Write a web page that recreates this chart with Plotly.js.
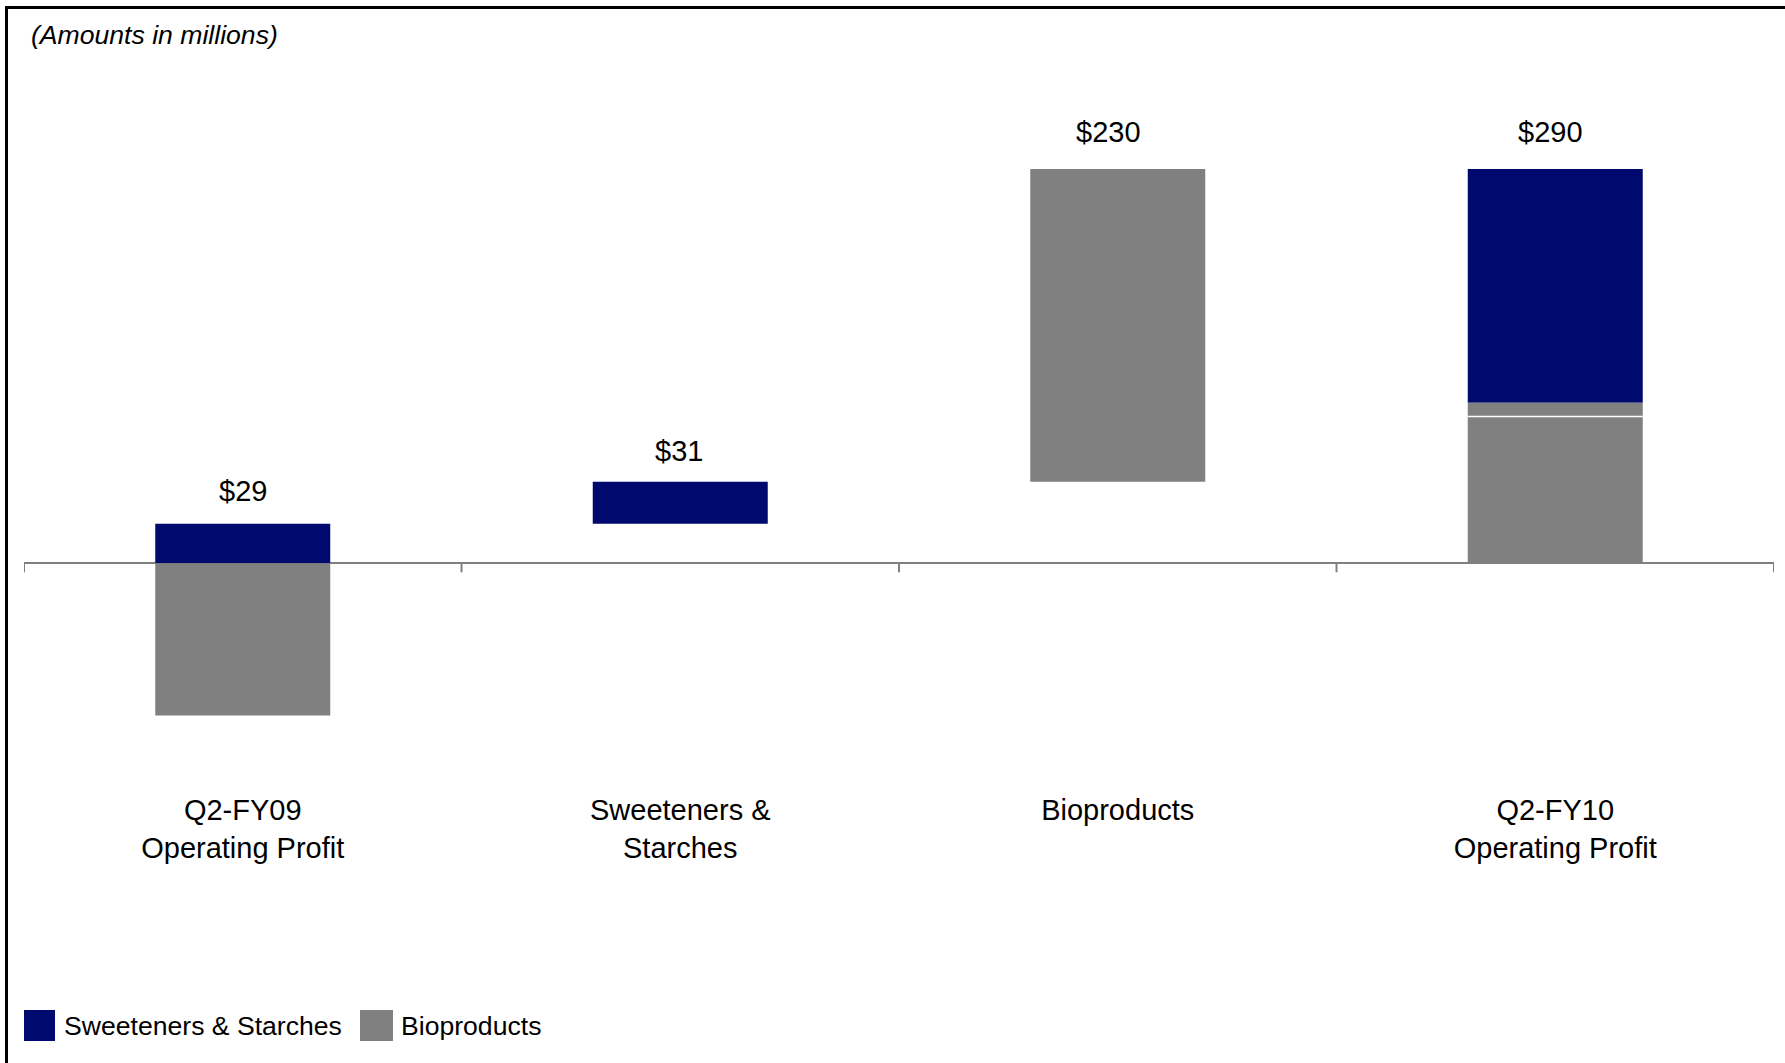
<!DOCTYPE html>
<html>
<head>
<meta charset="utf-8">
<script src="https://cdn.plot.ly/plotly-3.0.1.min.js"></script>
<style>
  html, body { margin: 0; padding: 0; background: #fff; }
  #wrap { position: relative; width: 1785px; height: 1063px; overflow: hidden; }
  #chart { position: absolute; left: 0; top: 0; width: 1785px; height: 1063px; }
  .frameTop { position: absolute; left: 5px; top: 6px; width: 1780px; height: 3px; background: #000; }
  .frameLeft { position: absolute; left: 5px; top: 6px; width: 3px; height: 1057px; background: #000; }
  #err { position: absolute; left: 400px; top: 300px; font: 20px monospace; color: red; white-space: pre; }
</style>
</head>
<body>
<div id="wrap">
  <div id="chart"></div>
  <div class="frameTop"></div>
  <div class="frameLeft"></div>
  <div id="err"></div>
</div>
<script>
function logErr(tag, e) {
  document.getElementById('err').textContent += tag + ': ' + (e && e.message ? e.message : e) + '\n';
}
// ---- data ----
var categories = ['Q2-FY09<br>Operating Profit', 'Sweeteners &<br>Starches', 'Bioproducts', 'Q2-FY10<br>Operating Profit'];
var sweetX      = [0, 1, 3];
var sweetValues = [29, 31, 172];
var sweetBase   = [0, 29, 118];
var bioX        = [0, 2, 3];
var bioValues   = [-112, 230, 108];
var bioBase     = [0, 60, 0];
var bioExtraX      = [3];
var bioExtraValues = [10];
var bioExtraBase   = [108];
var valueLabels = ['$29', '$31', '$230', '$290'];
var seriesNames = ['Sweeteners & Starches', 'Bioproducts'];

// ---- style ----
var NAVY = '#000A6E';
var GRAY = '#808080';
var FONT = 'Liberation Sans, Arial, sans-serif';
var W = 1785, H = 1063;
var mL = 24, mR = 11, mT = 101, mB = 273;
var pxPerUnit = 1.3597, zeroPx = 563.3;
var yMax = (zeroPx - mT) / pxPerUnit;
var yMin = (zeroPx - (H - mB)) / pxPerUnit;
var plotW = W - mL - mR, plotH = H - mT - mB;
var unitsPerPx = 1 / pxPerUnit;
function px2xp(px) { return (px - mL) / plotW; }
function py2yp(py) { return (H - mB - py) / plotH; }
var labelShiftX = [0, -1, -9, -5];
var labelShiftY = [33, 31, 37, 37];

var barW = 0.4;
var traces = [
  { type: 'bar', name: seriesNames[0], x: sweetX, y: sweetValues, base: sweetBase,
    width: barW, marker: { color: NAVY }, showlegend: false, hoverinfo: 'skip' },
  { type: 'bar', name: seriesNames[1], x: bioX, y: bioValues, base: bioBase,
    width: barW, marker: { color: GRAY }, showlegend: false, hoverinfo: 'skip' },
  { type: 'bar', name: seriesNames[1], x: bioExtraX, y: bioExtraValues, base: bioExtraBase,
    width: barW, marker: { color: GRAY }, showlegend: false, hoverinfo: 'skip' }
];

// column tops from the data
var colTop = [0, 0, 0, 0];
[[sweetX, sweetValues, sweetBase], [bioX, bioValues, bioBase], [bioExtraX, bioExtraValues, bioExtraBase]].forEach(function (t) {
  for (var q = 0; q < t[0].length; q++) {
    var topv = t[2][q] + Math.max(t[1][q], 0);
    if (topv > colTop[t[0][q]]) colTop[t[0][q]] = topv;
  }
});

var annotations = [];
for (var i = 0; i < categories.length; i++) {
  annotations.push({ x: i, y: colTop[i], xref: 'x', yref: 'y', text: valueLabels[i],
    showarrow: false, yanchor: 'middle', xshift: labelShiftX[i], yshift: labelShiftY[i],
    font: { family: FONT, size: 29, color: '#000' } });
}
annotations.push({ xref: 'paper', yref: 'paper', x: px2xp(29), y: py2yp(35), xanchor: 'left', yanchor: 'middle',
  text: '<i>(Amounts in millions)</i>', showarrow: false, font: { family: FONT, size: 26.6, color: '#000' } });

var shapes = [];
var legendItems = [
  { name: seriesNames[0], color: NAVY, x0: 24, x1: 55, tx: 62 },
  { name: seriesNames[1], color: GRAY, x0: 360, x1: 393, tx: 399 }
];
for (var j = 0; j < legendItems.length; j++) {
  var it = legendItems[j];
  shapes.push({ type: 'rect', xref: 'paper', yref: 'paper', x0: px2xp(it.x0), x1: px2xp(it.x1),
    y0: py2yp(1041), y1: py2yp(1010), fillcolor: it.color, line: { width: 0 } });
  annotations.push({ xref: 'paper', yref: 'paper', x: px2xp(it.tx), y: py2yp(1026), xanchor: 'left', yanchor: 'middle',
    text: it.name, showarrow: false, font: { family: FONT, size: 26.6, color: '#000' } });
}
for (var b = 0; b <= categories.length; b++) {
  shapes.push({ type: 'line', xref: 'x', yref: 'y',
    x0: b - 0.5, x1: b - 0.5, y0: 0, y1: -9 * unitsPerPx, line: { color: GRAY, width: 2 } });
}
shapes.push({ type: 'line', xref: 'x', yref: 'y', x0: 3 - barW / 2, x1: 3 + barW / 2,
  y0: bioExtraBase[0], y1: bioExtraBase[0], line: { color: '#fff', width: 1.5 } });

var layout = {
  width: W, height: H,
  margin: { l: mL, r: mR, t: mT, b: mB, pad: 0 },
  paper_bgcolor: '#fff', plot_bgcolor: '#fff',
  font: { family: FONT, color: '#000' },
  barmode: 'overlay',
  showlegend: false,
  xaxis: { range: [-0.5, 3.5], tickmode: 'array', tickvals: [0, 1, 2, 3], ticktext: categories,
    showline: false, showgrid: false, zeroline: false,
    ticks: '', tickfont: { family: FONT, size: 29, color: '#000' } },
  yaxis: { range: [yMin, yMax], showline: false, showgrid: false, showticklabels: false, ticks: '',
    zeroline: true, zerolinecolor: GRAY, zerolinewidth: 2 }
};

try {
  Plotly.newPlot('chart', traces, layout, { displayModeBar: false }).then(function () {
    try {
      return Plotly.relayout('chart', { shapes: shapes });
    } catch (e) { logErr('shapes', e); }
  }).then(function () {
    try {
      return Plotly.relayout('chart', { annotations: annotations });
    } catch (e) { logErr('annotations', e); }
  }).catch(function (e) { logErr('promise', e); });
} catch (e) { logErr('newPlot', e); }
</script>
</body>
</html>
